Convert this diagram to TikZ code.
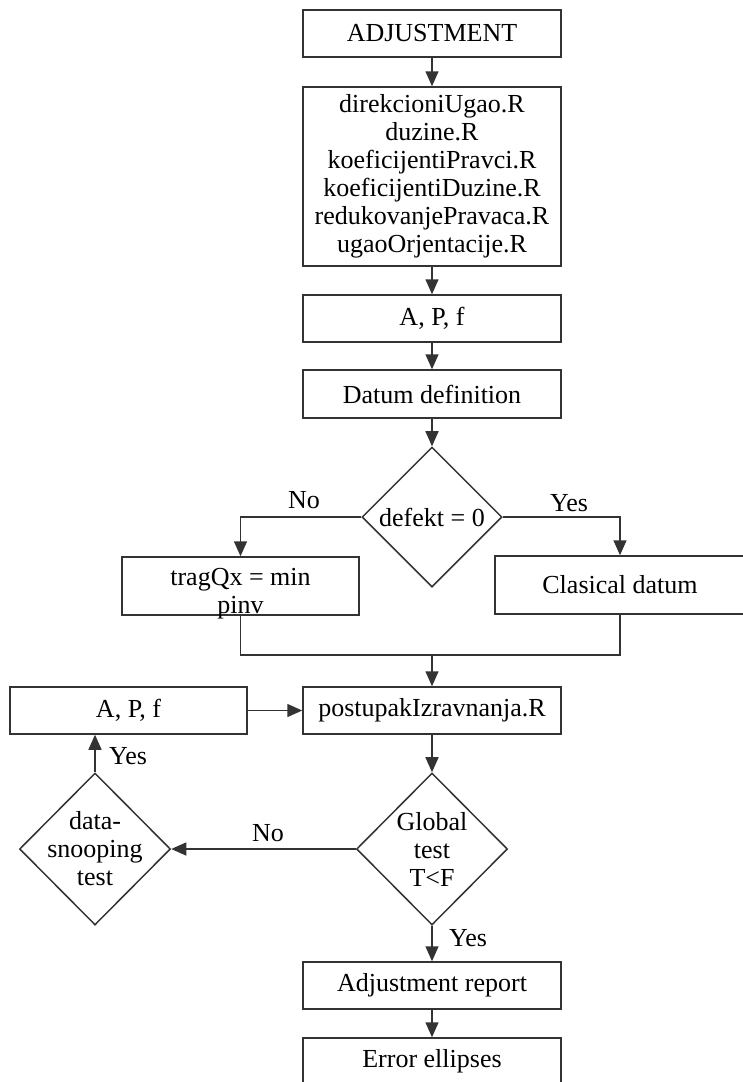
\documentclass[tikz,border=0pt]{standalone}
\usepackage{fontspec}
\setmainfont{Liberation Serif}
\usetikzlibrary{shapes.geometric}
\usetikzlibrary{arrows.meta}
\usetikzlibrary{positioning}
\tikzset{>={Triangle[length=15pt,width=13pt]}}
\tikzset{
  block/.style={draw=black!80, line width=1.5pt, rectangle, minimum width=258pt,
    minimum height=47pt, inner sep=0pt, align=center, font=\fontsize{26}{28}\selectfont},
  decision/.style={draw=black!80, line width=1.5pt, diamond, minimum width=151pt,
    minimum height=152pt, inner sep=-14pt, align=center, font=\fontsize{26}{28}\selectfont},
  link/.style={draw=black!80, line width=1.5pt},
  lbl/.style={font=\fontsize{26}{28}\selectfont, inner sep=0pt}
}

\begin{document}
\begin{tikzpicture}[x=1pt, y=-1pt]
                \useasboundingbox (0,0) rectangle (743,1082);
                % main column
                \node [block] (adj) at (432, 33.5) {ADJUSTMENT};
                \node [block, minimum height=179pt] (scripts) at (432, 176.5) {direkcioniUgao.R\\duzine.R\\koeficijentiPravci.R\\koeficijentiDuzine.R\\redukovanjePravaca.R\\ugaoOrjentacije.R};
                \node [block] (apf) at (432, 318.5) {A, P, f};
                \node [block, minimum height=48pt] (datum) at (432, 394) {Datum definition};
                \draw [link, ->] (adj) -- (scripts);
                \draw [link, ->] (scripts) -- (apf);
                \draw [link, ->] (apf) -- (datum);
                % datum choice
                \node [decision, minimum width=140pt, minimum height=140pt] (defekt) at (432, 517) {defekt = 0};
                \draw [link, ->] (datum) -- (defekt);
                \node [block, minimum width=237pt, minimum height=58pt] (trag) at (240.5, 586) {};
                \node [lbl, align=center] (tragtext) at (240.5, 594) {tragQx = min\\pinv};
                \node [block, minimum width=250pt, minimum height=58pt] (clas) at (620, 585) {Clasical datum};
                \draw [link, ->] (defekt.west) -| (trag.north);
                \draw [link, ->] (defekt.east) -| (clas.north);
                \node [lbl] (no1) at (304, 500) {No};
                \node [lbl] (yes1) at (569, 503) {Yes};
                \coordinate (join) at (432, 655);
                \draw [link] (trag.south) |- (join) -| (clas.south);
                % adjustment loop
                \node [block] (post) at (432, 710.5) {postupakIzravnanja.R};
                \node [block, minimum width=237pt] (apf2) at (128.5, 710.5) {A, P, f};
                \draw [link, ->] (join) -- (post);
                \draw [link, ->] (apf2) -- (post);
                \node [decision] (global) at (432, 849) {Global\\test\\T<F};
                \node [decision] (snoop) at (95, 849) {data-\\snooping\\test};
                \draw [link, ->] (post) -- (global);
                \draw [link, ->] (global) -- (snoop);
                \node [lbl] (no2) at (268, 833) {No};
                \draw [link, ->] (snoop.north) -- (snoop.north |- apf2.south);
                \node [lbl] (yes2) at (128, 756) {Yes};
                % results
                \node [block] (report) at (432, 985.5) {Adjustment report};
                \node [block, minimum height=46pt] (ellip) at (432, 1061) {Error ellipses};
                \draw [link, ->] (global) -- (report);
                \node [lbl] (yes3) at (468, 938) {Yes};
                \draw [link, ->] (report) -- (ellip);
            \end{tikzpicture}
\end{document}
